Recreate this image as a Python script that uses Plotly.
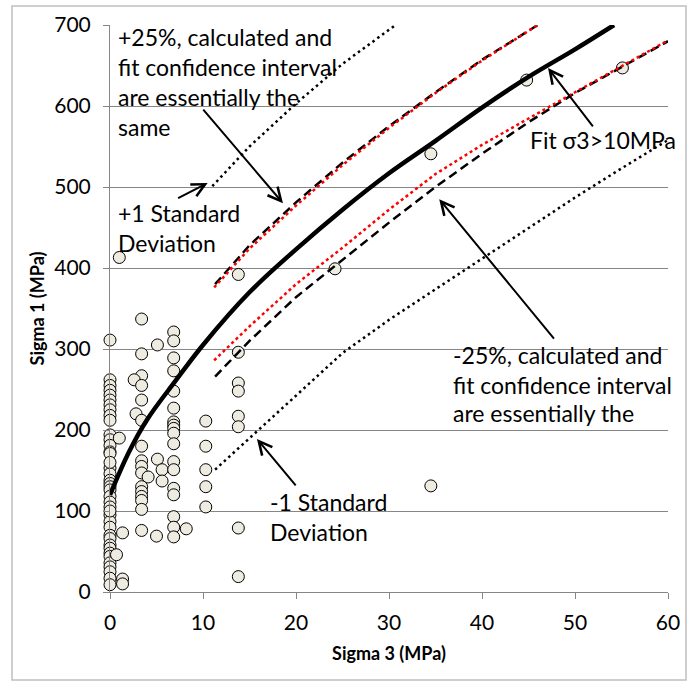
import plotly.graph_objects as go

# ---------------- data ----------------
obs_s3 = [0]*40 + [1.0, 0.7, 1.35, 1.35, 1.35, 1.0] + \
    [3.4, 3.4, 3.4, 2.6, 3.4, 3.4, 2.8, 3.4, 3.4, 3.4, 3.4, 3.4, 4.1, 3.4, 3.4, 3.4, 3.4, 3.4, 3.4] + \
    [5.1, 5.1, 5.6, 5.6, 5.0] + \
    [6.85]*18 + [8.2] + \
    [10.3]*5 + [13.8]*8 + [24.2, 34.5, 34.5, 44.8, 55.1]
obs_s1 = [311, 262, 255, 249, 243, 237, 231, 225, 218, 212, 194, 188, 181, 173, 171, 153, 146, 138, 134, 130,
          126, 118, 111, 105, 95, 87, 80, 70, 66, 58, 54, 48, 44, 36, 31, 25, 17, 9, 160, 100] + \
    [190, 46, 73, 16, 10, 413] + \
    [337, 294, 267, 262, 255, 237, 220, 212, 180, 162, 155, 147, 142, 130, 124, 118, 113, 102, 76] + \
    [305, 164, 151, 137, 69] + \
    [321, 310, 289, 273, 248, 227, 210, 206, 202, 196, 183, 161, 151, 128, 120, 93, 80, 68, 78] + \
    [211, 180, 151, 130, 105] + \
    [392, 296, 258, 248, 217, 204, 79, 19] + \
    [399, 541, 131, 632, 647]
obs_s3 = obs_s3[:len(obs_s1)]

fit_s3 = [0, 2, 4, 7, 10, 15, 20, 25, 30, 35, 40, 45, 50, 54.2]
fit_s1 = [120, 172, 213, 260, 305, 370, 423, 472, 517, 557, 598, 636, 670, 700]

up_s3 = [11.3, 15, 20, 25, 30, 35, 40, 46]
up_s1 = [380, 428, 481, 530, 575, 617, 657, 700]
upci_s3 = [11.2, 15, 20, 25, 30, 35, 40, 46]
upci_s1 = [376, 424, 477, 527, 573, 616, 656, 700]

lo_s3 = [11.3, 15, 20, 25, 30, 35, 40, 45, 50, 55, 60]
lo_s1 = [266, 310, 364, 410, 456, 500, 541, 580, 616, 648, 680]
loci_s3 = [11.2, 15, 20, 25, 30, 35, 40, 45, 50, 55, 60]
loci_s1 = [286, 328, 380, 425, 472, 516, 552, 585, 617, 649, 681]

p1sd_s3 = [11, 15, 20, 25, 30.7]
p1sd_s1 = [501, 550, 603, 652, 700]
m1sd_s3 = [11.3, 15, 20, 25, 30, 35, 40, 45, 50, 55, 60]
m1sd_s1 = [151, 190, 243, 295, 336, 374, 412, 450, 487, 523, 558]

x_ticks = [0, 10, 20, 30, 40, 50, 60]
y_ticks = [0, 100, 200, 300, 400, 500, 600, 700]

FONT = "Lato"

fig = go.Figure()

fig.add_trace(go.Scatter(x=obs_s3, y=obs_s1, mode="markers", cliponaxis=False,
                         marker=dict(size=12, color="#EEECE1", line=dict(color="black", width=1))))

fig.add_trace(go.Scatter(x=m1sd_s3, y=m1sd_s1, mode="lines", line=dict(color="black", width=2.5, dash="2.5px,3.5px")))
fig.add_trace(go.Scatter(x=p1sd_s3, y=p1sd_s1, mode="lines", line=dict(color="black", width=2.5, dash="2.5px,3.5px")))
fig.add_trace(go.Scatter(x=lo_s3, y=lo_s1, mode="lines", line=dict(color="black", width=2.5, dash="9px,5px")))
fig.add_trace(go.Scatter(x=up_s3, y=up_s1, mode="lines", line=dict(color="black", width=2.5, dash="9px,5px")))
fig.add_trace(go.Scatter(x=loci_s3, y=loci_s1, mode="lines", line=dict(color="red", width=2.5, dash="3px,3px")))
fig.add_trace(go.Scatter(x=upci_s3, y=upci_s1, mode="lines", line=dict(color="red", width=2.5, dash="3px,3px")))
fig.add_trace(go.Scatter(x=fit_s3, y=fit_s1, mode="lines", line=dict(color="black", width=4.5, shape="spline")))

txt = dict(family=FONT, size=23, color="black")
notes = [
    (0.6, 685, "+25%, calculated and"),
    (0.6, 648, "fit confidence interval"),
    (0.6, 611, "are essentially the"),
    (0.6, 574, "same"),
    (0.6, 468, "+1 Standard"),
    (0.6, 431, "Deviation"),
    (44.9, 558, "Fit σ3>10MPa"),
    (36.7, 293, "-25%, calculated and"),
    (36.7, 256, "fit confidence interval"),
    (36.7, 221, "are essentially the"),
    (17.0, 111, "-1 Standard"),
    (17.0, 74, "Deviation"),
]
for x, y, t in notes:
    fig.add_annotation(x=x, y=y, text=t, showarrow=False, xanchor="left", yanchor="middle",
                       font=txt, align="left")

arrows = [
    (18.6, 480, -81, -95),
    (10.5, 505, -31, 16),
    (47.1, 647, 46, 60),
    (35.4, 485, 116, 141),
    (15.8, 189, 40, 48),
]
for x, y, ax, ay in arrows:
    fig.add_annotation(x=x, y=y, ax=ax, ay=ay, text="", showarrow=True, arrowhead=5,
                       arrowsize=1.3, arrowwidth=2, arrowcolor="black", standoff=0)

L, R, T, B = 110, 28, 25, 93
W, H = 696, 685
pw, ph = W - L - R, H - T - B
fig.add_shape(type="rect", xref="paper", yref="paper",
              x0=(12 - L) / pw, x1=(686 - L) / pw,
              y0=(H - B - 680) / ph, y1=(H - B - 6) / ph,
              line=dict(color="#BFBFBF", width=1.5), fillcolor="rgba(0,0,0,0)")

fig.update_layout(
    width=W, height=H, showlegend=False,
    margin=dict(l=L, r=R, t=T, b=B),
    paper_bgcolor="white", plot_bgcolor="white",
    font=dict(family=FONT, color="black"),
    xaxis=dict(range=[0, 60], tickvals=x_ticks, showgrid=False, zeroline=False,
               showline=True, linecolor="#868686", linewidth=1,
               ticks="outside", ticklen=6, tickcolor="#868686",
               tickfont=dict(family=FONT, size=21, color="black"), ticklabelstandoff=6,
               title=dict(text="<b>Sigma 3 (MPa)</b>", font=dict(family=FONT, size=18), standoff=14)),
    yaxis=dict(range=[0, 700], tickvals=y_ticks, showgrid=True, gridcolor="#868686", gridwidth=1,
               zeroline=False, showline=True, linecolor="#868686", linewidth=1,
               ticks="outside", ticklen=6, tickcolor="#868686",
               tickfont=dict(family=FONT, size=21, color="black"), ticklabelstandoff=8,
               title=dict(text="<b>Sigma 1 (MPa)</b>", font=dict(family=FONT, size=18), standoff=4)),
)

fig.write_html("out.html", post_script="document.body.style.margin='0';",
               config={"displayModeBar": False})
